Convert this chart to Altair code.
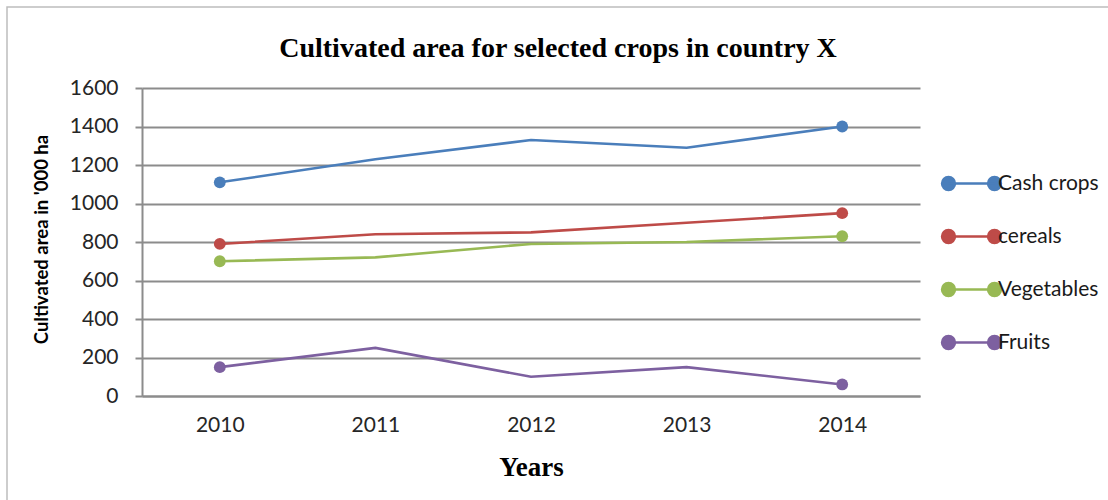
import altair as alt
import pandas as pd

# Cultivated area ('000 ha) by crop group, 2010-2014
years = ["2010", "2011", "2012", "2013", "2014"]
cash_crops = [1110, 1230, 1330, 1290, 1400]
cereals = [790, 840, 850, 900, 950]
vegetables = [700, 720, 790, 800, 830]
fruits = [150, 250, 100, 150, 60]

series_names = ["Cash crops", "cereals", "Vegetables", "Fruits"]
series_values = [cash_crops, cereals, vegetables, fruits]
series_colors = ["#4a7ebb", "#be4b48", "#98b954", "#7d60a0"]

chart_title = "Cultivated area for selected crops in country X"

rows = []
for name, vals in zip(series_names, series_values):
    for yr, v in zip(years, vals):
        rows.append({"Year": yr, "Crop": name, "Area": v})
df = pd.DataFrame(rows)

W, H = 778, 308
LEFT, TOP = 142, 88
TOTAL_W, TOTAL_H = 1108, 500

# legend glyph: a short line with a dot at each end
r = 0.28
legend_path = (
    "M -1 0 L 1 0 "
    f"M {-1 - r} 0 A {r} {r} 0 1 1 {-1 + r} 0 A {r} {r} 0 1 1 {-1 - r} 0 Z "
    f"M {1 - r} 0 A {r} {r} 0 1 1 {1 + r} 0 A {r} {r} 0 1 1 {1 - r} 0 Z"
)

color = alt.Color(
    "Crop:N",
    scale=alt.Scale(domain=series_names, range=series_colors),
    legend=alt.Legend(
        orient="none",
        legendX=805,
        legendY=71,
        title=None,
        padding=0,
        symbolType=legend_path,
        symbolSize=2116,
        symbolStrokeWidth=2.5,
        symbolOpacity=1,
        labelFont="Lato",
        labelFontSize=21,
        labelColor="#1a1a1a",
        labelOffset=2,
        rowPadding=17,
    ),
)

x = alt.X(
    "Year:N",
    sort=years,
    scale=alt.Scale(type="point", padding=0.5),
    axis=alt.Axis(
        title="Years",
        titleFont="Liberation Serif",
        titleFontSize=27,
        titleFontWeight="bold",
        titleColor="#000",
        titleBaseline="alphabetic",
        titleY=79,
        labelAngle=0,
        labelFont="Lato",
        labelFontSize=21,
        labelColor="#262626",
        labelPadding=18,
        ticks=False,
        domainColor="#8c8c8c",
        domainWidth=2,
        grid=False,
    ),
)

y = alt.Y(
    "Area:Q",
    scale=alt.Scale(domain=[0, 1600], nice=False),
    axis=alt.Axis(
        title="Cultivated area in '000 ha",
        titleFont="Lato",
        titleFontSize=18.5,
        titleFontWeight="bold",
        titleColor="#000",
        titleX=-95,
        titleY=151,
        titleAngle=-90,
        titleBaseline="alphabetic",
        titleAlign="center",
        values=list(range(0, 1601, 200)),
        format="d",
        labelFont="Lato",
        labelFontSize=21,
        labelColor="#262626",
        labelPadding=17,
        tickSize=7,
        tickColor="#8c8c8c",
        tickWidth=2,
        domainColor="#8c8c8c",
        domainWidth=2,
        gridColor="#8c8c8c",
        gridWidth=2,
    ),
)

lines = alt.Chart(df).mark_line(strokeWidth=2.6).encode(x=x, y=y, color=color)

ends = (
    alt.Chart(df)
    .transform_filter(alt.FieldOneOfPredicate(field="Year", oneOf=[years[0], years[-1]]))
    .mark_point(filled=True, size=140, opacity=1)
    .encode(x=x, y=y, color=color)
)

# thin outer frame around the whole figure
frame = alt.Chart(pd.DataFrame({"k": [0]})).mark_rect(
    fill=None, stroke="#bdbdbd", strokeWidth=1.5, clip=False
).encode(
    x=alt.value(7 - LEFT),
    x2=alt.value(TOTAL_W + 10 - LEFT),
    y=alt.value(7 - TOP),
    y2=alt.value(TOTAL_H + 10 - TOP),
)

# heading, centred over the whole figure
heading = alt.Chart(pd.DataFrame({"t": [chart_title]})).mark_text(
    font="Liberation Serif",
    fontSize=28,
    fontWeight="bold",
    color="#000",
    align="center",
    baseline="alphabetic",
    clip=False,
).encode(
    text="t:N",
    x=alt.value(558 - LEFT),
    y=alt.value(57 - TOP),
)

chart = (
    alt.layer(frame, lines, ends, heading)
    .properties(
        width=W,
        height=H,
        autosize=alt.AutoSizeParams(type="none"),
        padding={"left": LEFT, "top": TOP, "right": TOTAL_W - LEFT - W, "bottom": TOTAL_H - TOP - H},
        background="white",
    )
    .configure_view(stroke=None)
)

chart.save("out.html", embed_options={"renderer": "svg", "actions": False})
